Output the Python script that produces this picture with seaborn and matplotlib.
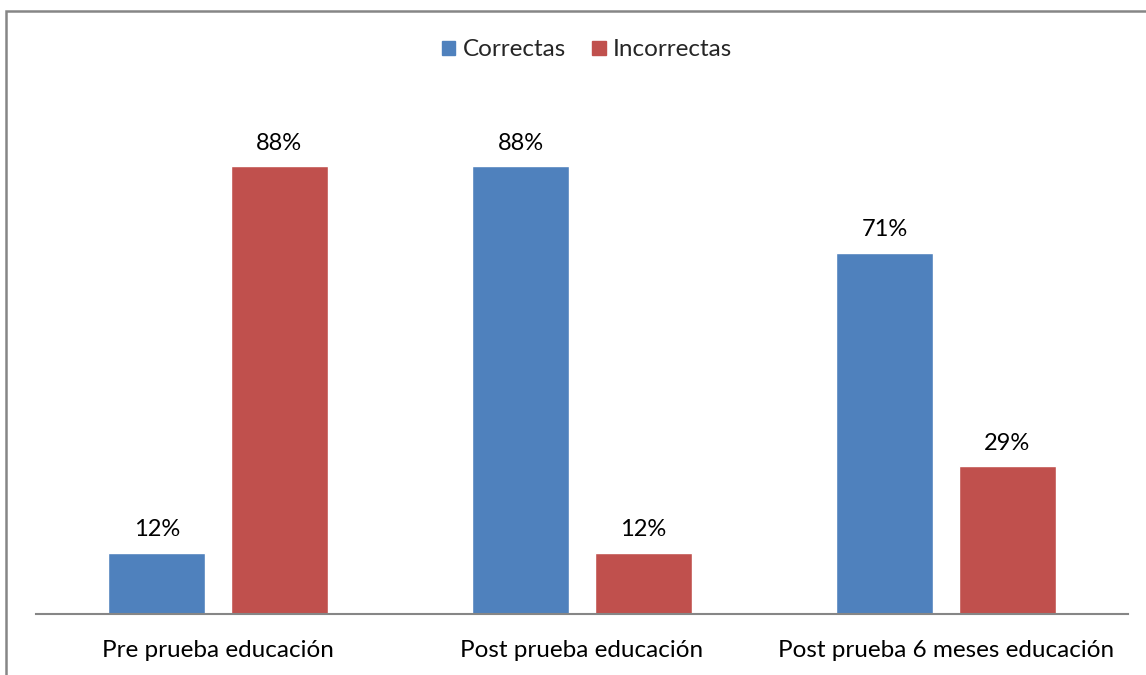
import matplotlib
matplotlib.use("Agg")
import matplotlib.pyplot as plt
from matplotlib.patches import Rectangle
import seaborn as sns
import pandas as pd

categories = ["Pre prueba educación", "Post prueba educación", "Post prueba 6 meses educación"]
series = ["Correctas", "Incorrectas"]
correctas = [12, 88, 71]
incorrectas = [88, 12, 29]
colors = ["#4F81BD", "#C0504D"]

df = pd.DataFrame({
    "categoria": categories * 2,
    "respuesta": [series[0]] * 3 + [series[1]] * 3,
    "valor": correctas + incorrectas,
})

sns.set_theme(style="white")
plt.rcParams["font.family"] = ["Lato", "DejaVu Sans"]

W, H = 1146, 675
fig = plt.figure(figsize=(W / 100, H / 100), dpi=100)
ax = fig.add_axes([36 / W, (H - 614) / H, 1092 / W, 509 / H])

sns.barplot(data=df, x="categoria", y="valor", hue="respuesta",
            palette=colors, width=0.673, gap=0.207, ax=ax,
            saturation=1, legend=False)

for cont in ax.containers:
    ax.bar_label(cont, labels=[f"{v:.0f}%" for v in cont.datavalues],
                 padding=9, fontsize=17, color="#000000")

ax.set_xlim(-0.5, 2.5)
ax.set_ylim(0, 100)
ax.set_xlabel("")
ax.set_ylabel("")
ax.set_yticks([])
ax.tick_params(axis="x", length=0, labelsize=17.5, colors="#000000", pad=19)
for s in ["top", "right", "left"]:
    ax.spines[s].set_visible(False)
ax.spines["bottom"].set_color("#868686")
ax.spines["bottom"].set_linewidth(1.5)

handles = [Rectangle((0, 0), 1, 1, color=c) for c in colors]
fig.legend(handles, series, loc="center", bbox_to_anchor=(587 / W, 1 - 50 / H),
           ncol=2, frameon=False, fontsize=17.5, handlelength=0.55, handleheight=0.55,
           handletextpad=0.3, columnspacing=1.1, borderaxespad=0)

# chart area border
fig.patches.append(Rectangle((6 / W, -0.1), 1.2, (H - 11) / H + 0.1,
                             transform=fig.transFigure, fill=False,
                             edgecolor="#868686", linewidth=1.8))

fig.savefig("out.png", dpi=100, facecolor="white")
